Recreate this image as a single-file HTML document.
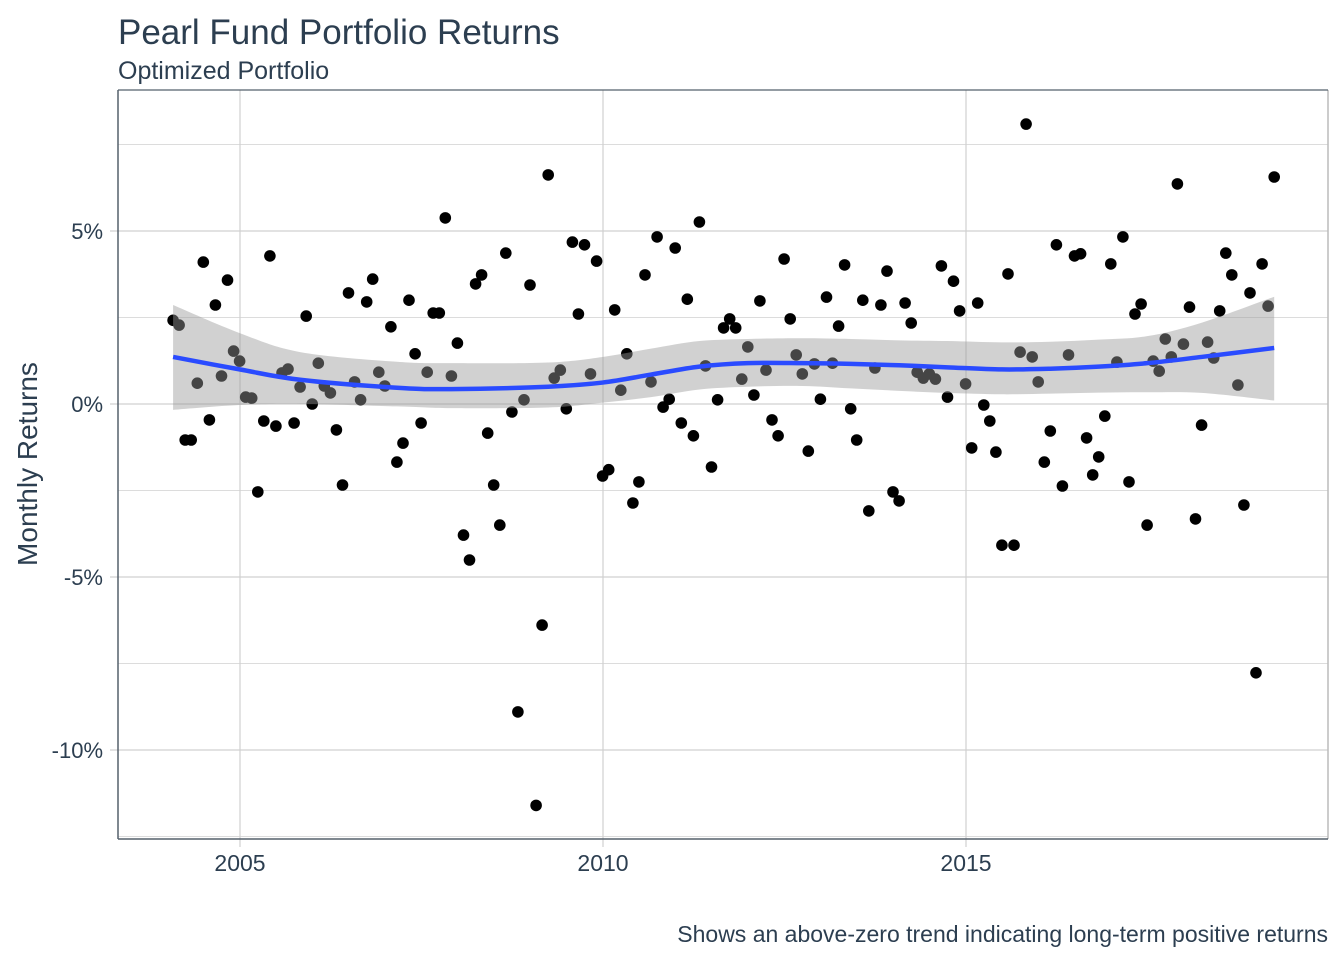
<!DOCTYPE html>
<html><head><meta charset="utf-8"><style>
html,body{margin:0;padding:0;background:#fff;}
svg text{font-family:"Liberation Sans",Arial,sans-serif;fill:#2c3e50;}
</style></head><body>
<svg id="chart" width="1344" height="960" viewBox="0 0 1344 960" xmlns="http://www.w3.org/2000/svg">
<text x="118" y="44" font-size="35">Pearl Fund Portfolio Returns</text>
<text x="118" y="79" font-size="25">Optimized Portfolio</text>
<text transform="translate(37,464) rotate(-90)" text-anchor="middle" font-size="28">Monthly Returns</text>
<text x="1328" y="942" text-anchor="end" font-size="23">Shows an above-zero trend indicating long-term positive returns</text>
<g id="grid"></g>
<g id="points"></g>
<g id="smooth"></g>
<g id="axes"></g>
</svg>
<script>
const returnsPct = [2.42,2.28,-1.04,-1.04,0.6,4.1,-0.46,2.86,0.81,3.58,1.53,1.24,0.2,0.17,-2.54,-0.49,4.28,-0.64,0.9,1.01,-0.55,0.49,2.54,0,1.18,0.52,0.32,-0.75,-2.34,3.21,0.64,0.12,2.95,3.61,0.92,0.52,2.23,-1.68,-1.13,3.0,1.45,-0.55,0.92,2.63,2.63,5.38,0.81,1.76,-3.79,-4.51,3.47,3.73,-0.84,-2.34,-3.5,4.36,-0.23,-8.9,0.12,3.44,-11.6,-6.39,6.62,0.75,0.98,-0.14,4.68,2.6,4.6,0.87,4.13,-2.08,-1.9,2.72,0.4,1.45,-2.86,-2.25,3.73,0.64,4.83,-0.09,0.14,4.51,-0.55,3.03,-0.92,5.26,1.1,-1.82,0.12,2.2,2.46,2.2,0.72,1.65,0.26,2.98,0.98,-0.46,-0.92,4.19,2.46,1.42,0.87,-1.36,1.16,0.14,3.09,1.18,2.25,4.02,-0.14,-1.04,3.0,-3.09,1.04,2.86,3.84,-2.54,-2.8,2.92,2.34,0.92,0.75,0.87,0.72,3.99,0.2,3.55,2.69,0.58,-1.27,2.92,-0.03,-0.49,-1.39,-4.08,3.76,-4.08,1.5,8.09,1.36,0.64,-1.68,-0.78,4.6,-2.37,1.42,4.28,4.34,-0.98,-2.05,-1.53,-0.35,4.05,1.21,4.83,-2.25,2.6,2.89,-3.5,1.24,0.95,1.88,1.36,6.36,1.73,2.8,-3.32,-0.61,1.79,1.33,2.69,4.36,3.73,0.55,-2.92,3.21,-7.77,4.05,2.83,6.56];
const startYear = 2004, startMonth = 1;
const smoothMonth = [0,11,21,37,46,62,71,79,87,95,104,112,120,128,137,145,153,161,170,182];
const smoothMean = [1.36,1.0,0.7,0.47,0.43,0.5,0.62,0.85,1.08,1.18,1.18,1.16,1.12,1.06,1.0,1.02,1.08,1.18,1.36,1.62];
const smoothUpper = [2.86,2.05,1.5,1.22,1.18,1.2,1.36,1.6,1.82,1.88,1.9,1.88,1.84,1.82,1.78,1.8,1.86,1.96,2.35,3.1];
const smoothLower = [-0.17,-0.03,0.0,-0.07,-0.12,-0.1,0.04,0.2,0.42,0.5,0.52,0.45,0.38,0.32,0.28,0.3,0.33,0.34,0.32,0.1];
const xTicks = [2005,2010,2015];
const yTicks = [-10,-5,0,5];
const yTickLabels = ["-10%","-5%","0%","5%"];
const yMinor = [-12.5,-7.5,-2.5,2.5,7.5];

const L=118,R=1328,T=90,B=839;
const xs = yr => 240 + (yr-2005)*72.6;
const ys = p => 404 - p*34.6;
const monthYear = i => startYear + (startMonth-1+i+1)/12 - 0.005;
const NS="http://www.w3.org/2000/svg";
function mk(tag, attrs, parent){const e=document.createElementNS(NS,tag);for(const k in attrs)e.setAttribute(k,attrs[k]);parent.appendChild(e);return e;}
const grid=document.getElementById('grid'), pts=document.getElementById('points'), sm=document.getElementById('smooth'), ax=document.getElementById('axes');

yMinor.forEach(v=>{const l=mk('line',{x1:L,x2:R,y1:ys(v),y2:ys(v),stroke:'#dcdcdc','stroke-width':1},grid);

});
yTicks.forEach((v,i)=>{const l=mk('line',{x1:L-8,x2:R,y1:ys(v),y2:ys(v),stroke:'#d0d0d0','stroke-width':1.2},grid);


const t=mk('text',{x:103,y:ys(v)+8,'text-anchor':'end','font-size':22},ax);t.textContent=yTickLabels[i];

});
xTicks.forEach(v=>{const l=mk('line',{x1:xs(v),x2:xs(v),y1:T,y2:B+8,stroke:'#d0d0d0','stroke-width':1.2},grid);


const t=mk('text',{x:xs(v),y:871,'text-anchor':'middle','font-size':23},ax);t.textContent=String(v);

});

returnsPct.forEach((v,i)=>{const c=mk('circle',{cx:xs(monthYear(i)).toFixed(1),cy:ys(v).toFixed(1),r:5.8,fill:'#000'},pts);

});

function crPath(P){let d=`M${P[0][0]},${P[0][1]}`;for(let i=0;i<P.length-1;i++){const p0=P[i-1]||P[i],p1=P[i],p2=P[i+1],p3=P[i+2]||p2;
d+=` C${p1[0]+(p2[0]-p0[0])/6},${p1[1]+(p2[1]-p0[1])/6} ${p2[0]-(p3[0]-p1[0])/6},${p2[1]-(p3[1]-p1[1])/6} ${p2[0]},${p2[1]}`;}return d;}
const up=smoothMonth.map((m,i)=>[xs(monthYear(m)),ys(smoothUpper[i])]);
const lo=smoothMonth.map((m,i)=>[xs(monthYear(m)),ys(smoothLower[i])]).reverse();
const mean=smoothMonth.map((m,i)=>[xs(monthYear(m)),ys(smoothMean[i])]);
const rib=mk('path',{d:crPath(up)+' L'+crPath(lo).slice(1)+' Z',fill:'#999999','fill-opacity':0.45,stroke:'none'},sm);


const ln=mk('path',{d:crPath(mean),fill:'none',stroke:'#2a4bff','stroke-width':4.5},sm);



const rb=mk('line',{x1:R,x2:R,y1:T,y2:B,stroke:'#bbbbbb','stroke-width':1.5},ax);


const tb=mk('line',{x1:L,x2:R,y1:T,y2:T,stroke:'#55606c','stroke-width':1.2},ax);


const la=mk('line',{x1:L,x2:L,y1:T,y2:B,stroke:'#55606c','stroke-width':1.5},ax);


const ba=mk('line',{x1:L,x2:R,y1:B,y2:B,stroke:'#55606c','stroke-width':1.5},ax);


</script>
</body></html>
